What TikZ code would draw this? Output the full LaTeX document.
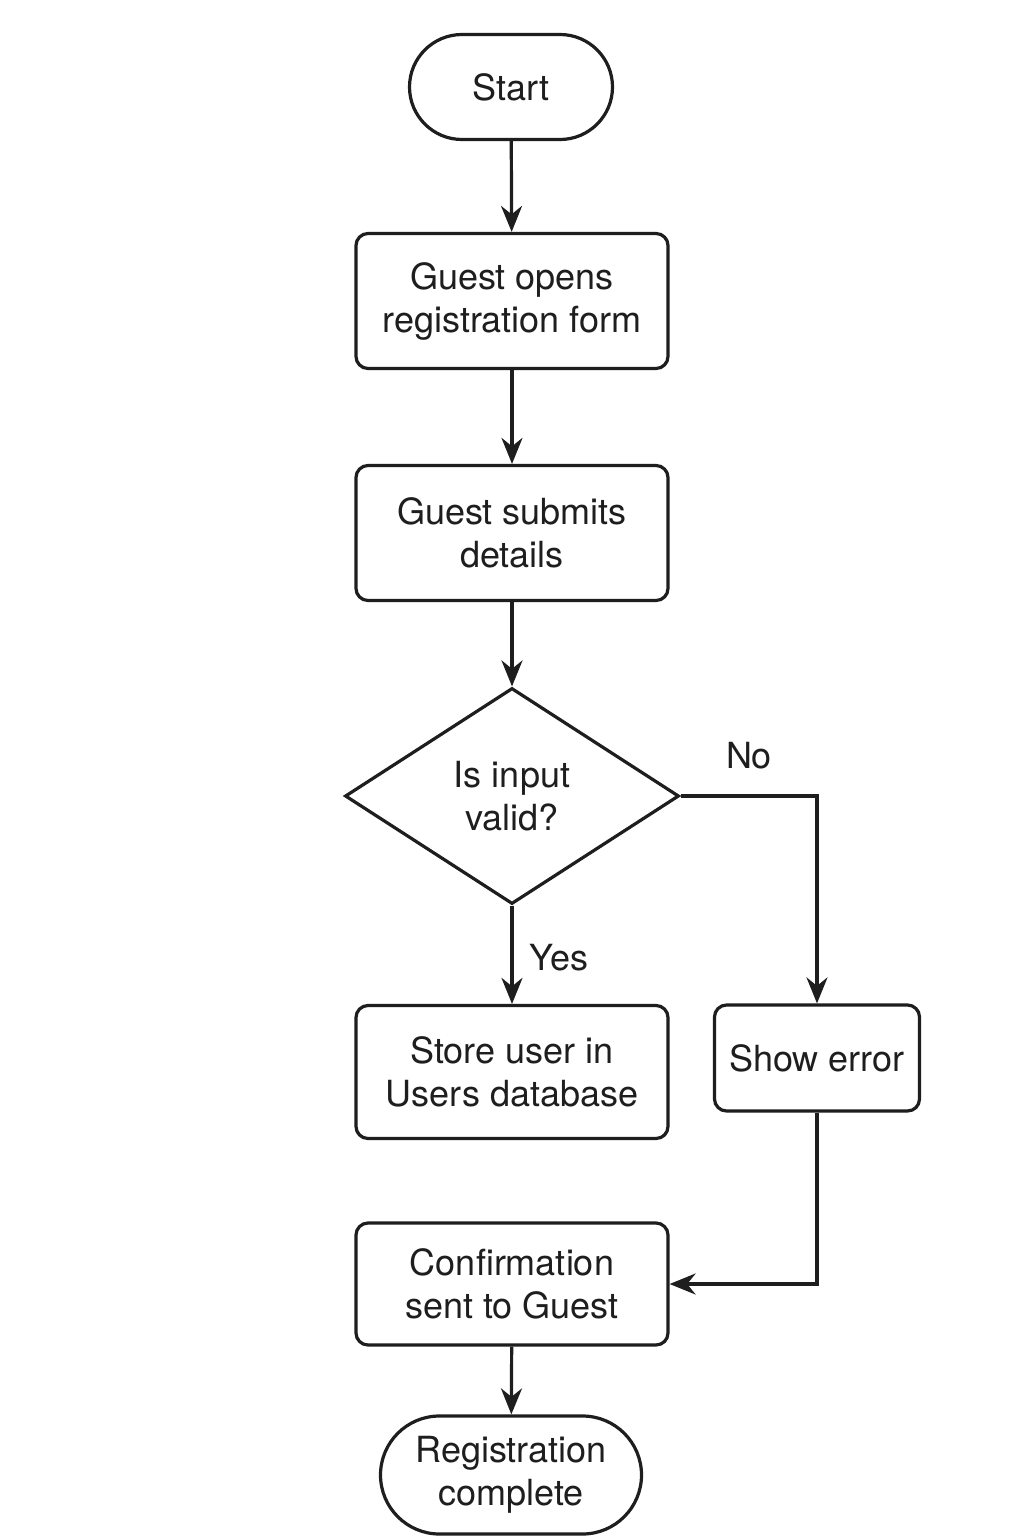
\documentclass[tikz,border=0pt]{standalone}
\usepackage{fontspec}
\setmainfont{TeX Gyre Heros}
\usetikzlibrary{arrows.meta,shapes.geometric,shapes.misc}
\definecolor{ink}{HTML}{1E1E1E}
\begin{document}
\begin{tikzpicture}[x=0.5pt,y=-0.5pt,
 every node/.style={font=\fontsize{18}{21.5}\selectfont, text=ink},
 proc/.style={draw=ink, line width=1.6pt, rounded corners=6pt, minimum width=156pt, minimum height=67.5pt, align=center, inner sep=0pt},
 term/.style={draw=ink, line width=1.6pt, rounded rectangle, align=center, inner sep=0pt},
 dec/.style={draw=ink, diamond, line width=1.6pt, minimum width=167pt, minimum height=108pt, align=center, inner sep=0pt},
 arr/.style={draw=ink, line width=1.6pt, -{Stealth[length=13pt,width=10.5pt]}},
 lbl/.style={inner sep=0pt}]
\useasboundingbox (0,0) rectangle (1024,1536);
\fill[white] (0,0) rectangle (1024,1536);
\node[term, minimum width=101.5pt, minimum height=52.5pt] (start) at (511,87) {Start};
\node[proc] (open) at (512,301) {Guest opens\\registration form};
\node[proc] (submit) at (512,533) {Guest submits\\details};
\node[dec] (valid) at (512,796) {Is input\\valid?};
\node[proc, minimum height=66.5pt] (store) at (512,1072) {Store user in\\Users database};
\node[proc, minimum width=102.5pt, minimum height=53pt] (err) at (817,1058) {Show error};
\node[proc, minimum height=61pt] (conf) at (512,1284) {Confirmation\\sent to Guest};
\node[term, minimum width=130.5pt, minimum height=59pt] (done) at (511,1475) {Registration\\complete};
\node[lbl] (no) at (749,756) {No};
\node[lbl] (yes) at (559,958) {Yes};
\draw[arr] (start) -- (open);
\draw[arr] (open) -- (submit);
\draw[arr] (submit) -- (valid);
\draw[arr] (valid) -- (store);
\draw[arr] (valid.east) -| (err.north);
\draw[arr] (err.south) |- (conf.east);
\draw[arr] (conf) -- (done);
\end{tikzpicture}
\end{document}
